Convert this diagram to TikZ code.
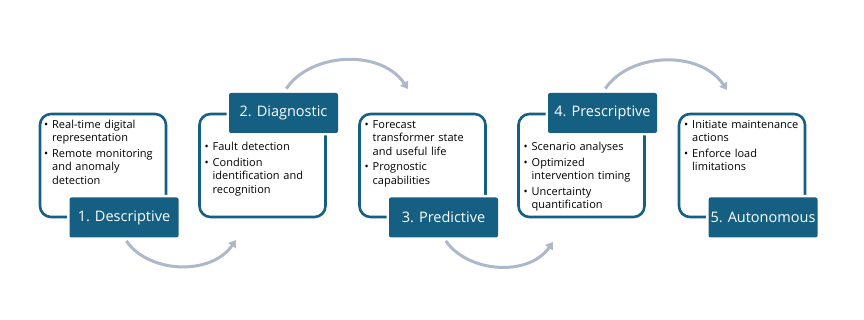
\documentclass[tikz,border=0pt]{standalone}
\usepackage{fontspec}
\setmainfont{Open Sans}
\usetikzlibrary{arrows.meta}

% bullet item with hanging indent
\newcommand{\bitem}[1]{\par\noindent\lineskip=0pt\makebox[8pt][l]{\textbullet}\parbox[t]{114pt}{\raggedright\strut#1\strut}\par\vspace{2pt}}

\begin{document}
\begin{tikzpicture}[x=1pt,y=1pt,every node/.style={font=\small}]
			% Define colors
			\definecolor{stageblue}{HTML}{156082}
			\definecolor{flowgray}{HTML}{ADB9CA}

			% Styles
			\tikzstyle{stage_box} = [draw=stageblue, line width=2.6pt, rounded corners=11pt, minimum width=126pt, minimum height=103pt]
			\tikzstyle{stage_label} = [fill=stageblue, text=white, font=\fontsize{14.5}{17}\selectfont, minimum width=109pt, minimum height=40pt, rounded corners=2pt, inner sep=0pt, preaction={draw=white, line width=5pt}]
			\tikzstyle{stage_text} = [anchor=north west, text width=122pt, align=left, inner sep=0pt, font=\fontsize{11}{13.5}\selectfont]
			\tikzstyle{flow_arrow} = [draw=flowgray, line width=3pt, -{Triangle[length=7pt,width=9pt]}]

			\useasboundingbox (0,0) rectangle (864,320);

			% Column X positions
			\def\colone{103}
			\def\coltwo{262.5}
			\def\colthree{422.5}
			\def\colfour{581.5}
			\def\colfive{742}
			\def\boxy{154.5}

			% Stage outlines
			\node[stage_box] (b1) at (\colone, \boxy) {};
			\node[stage_box] (b2) at (\coltwo, \boxy) {};
			\node[stage_box] (b3) at (\colthree, \boxy) {};
			\node[stage_box] (b4) at (\colfour, \boxy) {};
			\node[stage_box] (b5) at (\colfive, \boxy) {};

			% Bullet texts
			\node[stage_text] (t1) at (\colone-59, 205.5) {\bitem{Real-time digital\\representation}\bitem{Remote monitoring\\and anomaly\\detection}};
			\node[stage_text] (t2) at (\coltwo-58, 183) {\bitem{Fault detection}\bitem{Condition\\identification and\\recognition}};
			\node[stage_text] (t3) at (\colthree-58, 205.5) {\bitem{Forecast\\transformer state\\and useful life}\bitem{Prognostic\\capabilities}};
			\node[stage_text] (t4) at (\colfour-58, 183) {\bitem{Scenario analyses}\bitem{Optimized\\intervention timing}\bitem{Uncertainty\\quantification}};
			\node[stage_text] (t5) at (\colfive-58, 205.5) {\bitem{Initiate maintenance\\actions}\bitem{Enforce load\\limitations}};

			% Stage labels
			\node[stage_label] (l1) at (\colone+21, 102.5) {1. Descriptive};
			\node[stage_label] (l2) at (\coltwo+21, 207) {2. Diagnostic};
			\node[stage_label] (l3) at (\colthree+21, 102.5) {3. Predictive};
			\node[stage_label] (l4) at (\colfour+21, 207) {4. Prescriptive};
			\node[stage_label] (l5) at (\colfive+21, 102.5) {5. Autonomous};

			% Arrow ends
			\coordinate (a1) at (236, 80);
			\coordinate (a2) at (408, 231);
			\coordinate (a3) at (553, 78);
			\coordinate (a4) at (727, 230);

			% Arrows between stages
			\draw[flow_arrow, shorten <=4pt] (l1.south) to[out=-55, in=-125] (a1);
			\draw[flow_arrow, shorten <=5pt] (l2.north) to[out=56, in=124] (a2);
			\draw[flow_arrow, shorten <=4pt] (l3.south) to[out=-55, in=-125] (a3);
			\draw[flow_arrow, shorten <=5pt] (l4.north) to[out=56, in=124] (a4);

		\end{tikzpicture}
\end{document}
